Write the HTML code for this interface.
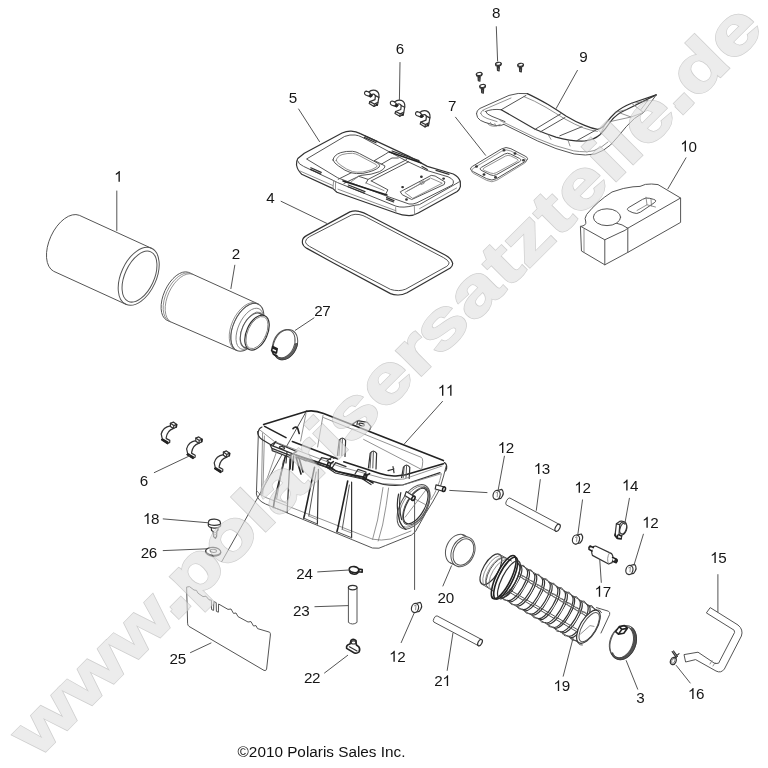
<!DOCTYPE html>
<html><head><meta charset="utf-8"><title>diagram</title>
<style>
html,body{margin:0;padding:0;background:#fff}
body{width:768px;height:768px;overflow:hidden;position:relative;font-family:"Liberation Sans",sans-serif}
svg{position:absolute;left:0;top:0;display:block;will-change:transform}
svg text{font-family:"Liberation Sans",sans-serif}
.g path,.g line,.g ellipse,.g polyline,.g rect{fill:none;stroke:#555;stroke-width:1;stroke-linecap:round;stroke-linejoin:round}
.g .w{fill:#fff}
.g .k{stroke:#222;stroke-width:1.6}
.g .d{stroke:#333;stroke-width:1.2}
.g .t{stroke:#777;stroke-width:.8}
.g .ld{stroke:#555;stroke-width:1}
.lb text{font-size:15.2px;fill:#161616;text-anchor:start}
.lb path{fill:#161616;stroke:none}
</style></head><body>
<svg width="768" height="768" viewBox="0 0 768 768">
<rect width="768" height="768" fill="#fff"/>
<g class="g">
<path d="M151.5,248.3 L79.3,215.3 A17.6 30.8 24.6 0 0 53.7,271.3 L125.9,304.3"/>
<ellipse cx="138.7" cy="276.3" rx="17.6" ry="30.8" transform="rotate(24.6 138.7 276.3)"/>
<ellipse cx="139.5" cy="276.6" rx="14.6" ry="27.2" transform="rotate(24.6 139.5 276.6)"/>
<line x1="116.8" y1="191" x2="116.8" y2="230.5" class="ld"/>
<path d="M258.1,303.9 L188.4,272.3 A14.4 26.3 24.6 0 0 166.6,320.1 L236.7,350.5"/>
<path d="M190.4,273.2 A14.4 26.3 24.6 0 0 168.6,321.0" class="t"/>
<path d="M192.4,274.1 A14.4 26.3 24.6 0 0 170.6,321.9" class="t"/>
<path d="M258.1,303.9 A14 25.6 24.6 0 0 236.7,350.5" class="t"/>
<path d="M255.8,302.9 A14 25.6 24.6 0 0 234.5,349.4" class="t"/>
<ellipse cx="247.4" cy="327.2" rx="14" ry="25.6" transform="rotate(24.6 247.4 327.2)"/>
<ellipse cx="249.9" cy="328.8" rx="11.5" ry="22" transform="rotate(24.6 249.9 328.8)" class="t"/>
<ellipse cx="252.4" cy="330.2" rx="10.2" ry="19.5" transform="rotate(24.6 252.4 330.2)" class="t"/>
<ellipse cx="252.5" cy="330.6" rx="10.4" ry="18.6" transform="rotate(24.6 252.5 330.6)" class="w"/>
<path d="M260.2,313.7 L264.7,315.7 M244.8,347.5 L249.3,349.5"/>
<ellipse cx="257" cy="332.6" rx="10.4" ry="18.6" transform="rotate(24.6 257 332.6)" class="w d"/>
<ellipse cx="257" cy="332.6" rx="9.2" ry="17.2" transform="rotate(24.6 257 332.6)" class="t"/>
<line x1="234.8" y1="265.2" x2="230.9" y2="288.6" class="ld"/>
<ellipse cx="285.4" cy="344.6" rx="11.4" ry="15.8" transform="rotate(24.6 285.4 344.6)"/>
<ellipse cx="283.79999999999995" cy="343.8" rx="10.4" ry="14.8" transform="rotate(24.6 283.79999999999995 343.8)"/>
<path d="M297.4,344.1 L296.9,346.3 L296.2,348.3 L295.3,350.3 L294.2,352.2 L292.9,354.0 L291.5,355.5 L289.9,356.9 L288.3,358.0 L286.6,358.8 L284.9,359.4 L283.2,359.7 L281.5,359.7 L279.9,359.4 L278.5,358.8 L277.1,357.9 L275.9,356.8 L274.9,355.4 L274.2,353.9 L273.6,352.1 L273.2,350.2 L273.1,348.2 L274.4,347.9 L274.4,349.7 L274.7,351.4 L275.1,353.0 L275.8,354.4 L276.6,355.6 L277.6,356.6 L278.8,357.3 L280.1,357.8 L281.4,358.1 L282.9,358.1 L284.4,357.8 L285.9,357.2 L287.3,356.4 L288.8,355.4 L290.2,354.1 L291.4,352.7 L292.6,351.1 L293.6,349.4 L294.4,347.6 L295.1,345.7 L295.5,343.8 Z" style="fill:#666;stroke:#333;stroke-width:.8"/>
<path d="M272.6,346.4 l4.6,2.2 l-0.8,4.4 l-4.8,-2.2 Z M273.4,348.2 l3,1.4 M272,351 l1.4,3.2 l3.6,1.8" class="w k"/>
<line x1="314" y1="317.9" x2="295.3" y2="330.3" class="ld"/>
<path d="M297.8,158.5 L304.3,153.2 L342.1,133 Q346.5,131 351.2,131.2 Q356,131.4 360.3,133.6 L409,156.4 L427.3,166.4 L453.3,174 Q458.6,176.6 460.3,181.5 L460.4,186.6 Q459.6,189.6 457.2,191.4 L418.2,213 Q413.5,215.6 409,215.6 Q402,215.4 396,213 L336.9,192.3 L333,188.6 L301.7,174.2 Q297.6,170.5 296.5,165 Q296.2,161 297.8,158.5 Z" class="d"/>
<path d="M297.4,160.5 Q298.6,164.4 303.6,166.4 L333.6,180.6 L337.6,182.6 L396,206.2 Q403,208.4 414.3,205.4 L419.5,204.6 L455.9,183.8 Q459.4,181.6 460.2,181.4"/>
<path d="M333.6,180.6 L333,188.6 M335.6,181.4 L335.4,190.6 M395.6,207.6 L396,213 M414.3,205.4 L414.6,214.6" class="t"/>
<path d="M300,171 L332.6,185.4 M338,189.2 L395.6,210.6 M419.6,208.6 L456.6,188" class="t"/>
<path d="M306.9,158.8 L344.7,136.4 Q350,134.4 355.1,135 Q358.6,135.4 362,137.2 L406.5,161 L426,170.2 L448.1,176.8 Q452,178.4 453.3,180.8 Q454,183.6 452,185.2 L416.9,202.8 Q413,204.6 409,204 L386.9,196.2 L338.2,178 Z"/>
<path d="M333,160 Q333.6,155 340.8,152.6 Q346,151 352.5,151.3 Q356,151.6 359.6,153.6 L378.5,163.6 Q380.2,165.2 379.2,167 Q375,171 362.9,173.4 Q356,174 351.2,172.8 Q345,171 338.6,166 Q334,163 333,160 Z"/>
<path d="M336.2,160.4 Q337,156.4 342.1,154.6 Q347,153.2 352.5,153.3 Q355.6,153.6 358.6,155.2 L376.2,164.6 Q377.6,165.8 376.6,167 Q372.6,170.2 362.9,172 Q356.5,172.6 352.5,171.6 Q346.5,169.6 341,165.4 Q336.8,162.6 336.2,160.4 Z" class="t"/>
<path d="M351.2,172.8 L338.2,179.3 M358.7,176.3 L344,183.4"/>
<path d="M374.4,160.6 L385.8,153.9 L389,151.8 M381.1,164.3 L392,158 L398.3,158 M374.4,160.6 L384.8,165.8 Q385.6,168.2 379.6,171.6 Q372,174.8 360.8,175.4 L358.7,176.3"/>
<path d="M368.1,179.4 L406.7,159.6 M371.2,180.9 L408.7,161.7 M358.7,176.3 L368.1,179.4 L366,183 M371.2,180.9 L387.9,189.8 L385.8,194"/>
<path d="M351.5,181.5 L358.7,176.3 M366,183 L384,190.6" class="t"/>
<path d="M310.8,167.8 L321.2,172.4 M310.4,169.4 L320.8,174" class="d"/>
<path d="M343.1,180.9 L386.9,195" class="k"/>
<path d="M348.3,185 L365,191.6 M348,186.8 L364.6,193.2" class="d"/>
<path d="M364.2,137.4 L376,142.8 M365.2,136 L377,141.4" class="d"/>
<path d="M389.5,152 L420.8,162.8" class="k"/>
<path d="M392,151 L419,160.6" class="d"/>
<path d="M422,166.4 L427.3,169.4 M436,170.4 L449,174.4" class="d"/>
<path d="M386.6,197.6 L394,200.6 M386.4,199.2 L393.6,202" class="d"/>
<path d="M400.6,191.6 L431.2,175.4 L435.1,176 L444.9,181.9 L444.2,184.5 L411.7,199.5 L402.6,194.9 Z"/>
<path d="M405.2,192.3 L430.5,178 L442.3,183.2 L413,198.2 Z" class="t"/>
<path d="M420,182.6 l3.4,-1.6 l1,0.8 l-0.4,1.6 l-2.6,1 Z M407,191.2 L429.6,179" class="t"/>
<ellipse cx="402.6" cy="187.1" rx="0.8" ry="0.6" transform="rotate(0 402.6 187.1)" class="d"/>
<ellipse cx="421.4" cy="176.7" rx="0.8" ry="0.6" transform="rotate(0 421.4 176.7)" class="d"/>
<ellipse cx="443.6" cy="178.6" rx="0.8" ry="0.6" transform="rotate(0 443.6 178.6)" class="d"/>
<ellipse cx="406.5" cy="199.5" rx="0.8" ry="0.6" transform="rotate(0 406.5 199.5)" class="d"/>
<line x1="298.6" y1="109" x2="319.5" y2="141.6" class="ld"/>
<path d="M302.4,241 Q302.4,237.8 306.9,235.4 L349.9,211.9 Q354.5,210.2 359,211.3 Q364,212.4 368.1,215 L445.6,255.2 Q451.5,258.6 452.7,263.4 Q452.6,266.4 450.3,268 L407,292.7 Q402,295.2 397.6,295 Q393.6,294.8 390.5,293.6 L333,262.7 L306.9,248.4 Q302.8,246 302.4,243 Z" class="d"/>
<path d="M305.6,241 Q305.8,238.6 309.5,236.7 L351.2,215.2 Q355,213.8 359,214.5 Q363,215.2 366.8,217.4 L443.3,257.5 Q448.4,260.2 449.1,262.8 Q448.8,265 446.8,266.3 L405.8,289.1 Q402,290.6 398.7,290.6 Q394,290.6 390.5,289.4 L334.3,260.1 L309.5,246.4 Q306,244.4 305.6,242.6 Z"/>
<line x1="281.1" y1="201.3" x2="326.8" y2="223.4" class="ld"/>
<path d="M369.0,92.0 L366.2,91.1 Q364.0,91.8 364.7,94.0 Q365.4,95.4 367.4,95.7 L370.8,96.9" class="w d"/>
<path d="M368.9,92.0 Q371.4,89.4 375.4,90.4 Q379.3,92.0 379.0,96.6 L377.6,104.6 L374.0,106.4 L369.2,103.6 L369.8,101.6 L375.0,99.6 L375.4,95.6 Q374.0,93.0 371.2,94.7 Z" class="w d"/>
<path d="M369.8,101.6 L374.4,104.0 L377.8,102.4 M374.4,104.0 L374.0,106.4 M375.4,95.6 L378.8,97.4" class="d"/>
<ellipse cx="370.6" cy="95.7" rx="1.5" ry="1.2" style="fill:#222;stroke:#222"/>
<path d="M376.2,104.2 L377.2,105.2" class="k"/>
<path d="M394.8,101.9 L392.0,101.0 Q389.8,101.7 390.5,103.9 Q391.2,105.3 393.2,105.6 L396.6,106.8" class="w d"/>
<path d="M394.7,101.9 Q397.2,99.3 401.2,100.3 Q405.1,101.9 404.8,106.5 L403.4,114.5 L399.8,116.3 L395.0,113.5 L395.6,111.5 L400.8,109.5 L401.2,105.5 Q399.8,102.9 397.0,104.6 Z" class="w d"/>
<path d="M395.6,111.5 L400.2,113.9 L403.6,112.3 M400.2,113.9 L399.8,116.3 M401.2,105.5 L404.6,107.3" class="d"/>
<ellipse cx="396.4" cy="105.6" rx="1.5" ry="1.2" style="fill:#222;stroke:#222"/>
<path d="M402.0,114.1 L403.0,115.1" class="k"/>
<path d="M420.0,112.5 L417.2,111.6 Q415.0,112.3 415.7,114.5 Q416.4,115.9 418.4,116.2 L421.8,117.4" class="w d"/>
<path d="M419.9,112.5 Q422.4,109.9 426.4,110.9 Q430.3,112.5 430.0,117.1 L428.6,125.1 L425.0,126.9 L420.2,124.1 L420.8,122.1 L426.0,120.1 L426.4,116.1 Q425.0,113.5 422.2,115.2 Z" class="w d"/>
<path d="M420.8,122.1 L425.4,124.5 L428.8,122.9 M425.4,124.5 L425.0,126.9 M426.4,116.1 L429.8,117.9" class="d"/>
<ellipse cx="421.6" cy="116.2" rx="1.5" ry="1.2" style="fill:#222;stroke:#222"/>
<path d="M427.2,124.7 L428.2,125.7" class="k"/>
<line x1="400" y1="62.5" x2="399.4" y2="100" class="ld"/>
<ellipse cx="498.4" cy="63.800000000000004" rx="2.9" ry="1.5" transform="rotate(-8 498.4 63.800000000000004)" class="w d"/>
<path d="M495.59999999999997,64.2 l0.4,1.6 q2.4,1 4.8,-0.6 l0.3,-1.6 M497.2,66.2 l0.3,4.2 l1.6,0.6 l0.3,-4.6 M497.29999999999995,67.60000000000001 l2,-0.4 M497.4,69.0 l2,-0.4" class="d"/>
<ellipse cx="520.6" cy="64.80000000000001" rx="2.9" ry="1.5" transform="rotate(-8 520.6 64.80000000000001)" class="w d"/>
<path d="M517.8000000000001,65.2 l0.4,1.6 q2.4,1 4.8,-0.6 l0.3,-1.6 M519.4,67.2 l0.3,4.2 l1.6,0.6 l0.3,-4.6 M519.5,68.60000000000001 l2,-0.4 M519.6,70.0 l2,-0.4" class="d"/>
<ellipse cx="479.2" cy="74.0" rx="2.9" ry="1.5" transform="rotate(-8 479.2 74.0)" class="w d"/>
<path d="M476.4,74.39999999999999 l0.4,1.6 q2.4,1 4.8,-0.6 l0.3,-1.6 M478.0,76.39999999999999 l0.3,4.2 l1.6,0.6 l0.3,-4.6 M478.09999999999997,77.8 l2,-0.4 M478.2,79.19999999999999 l2,-0.4" class="d"/>
<ellipse cx="482.6" cy="86.0" rx="2.9" ry="1.5" transform="rotate(-8 482.6 86.0)" class="w d"/>
<path d="M479.8,86.39999999999999 l0.4,1.6 q2.4,1 4.8,-0.6 l0.3,-1.6 M481.40000000000003,88.39999999999999 l0.3,4.2 l1.6,0.6 l0.3,-4.6 M481.5,89.8 l2,-0.4 M481.6,91.19999999999999 l2,-0.4" class="d"/>
<line x1="496.3" y1="26.7" x2="497.6" y2="61" class="ld"/>
<path d="M472.9,171.5 Q468.0,169.0 472.7,166.2 L501.3,149.0 Q506.0,146.2 510.9,148.7 L525.1,156.1 Q530.0,158.6 525.3,161.4 L496.7,178.6 Q492.0,181.4 487.1,178.9 Z"/>
<path d="M473.9,173.6 Q469.0,171.0 473.7,168.1 L501.3,151.4 Q506.0,148.5 510.9,151.0 L524.1,157.9 Q529.0,160.4 524.3,163.3 L496.7,180.3 Q492.0,183.2 487.1,180.6 Z" class="t"/>
<path d="M481.6,170.5 Q478.5,169.0 481.5,167.3 L504.5,154.1 Q507.5,152.4 510.6,154.0 L519.4,158.4 Q522.5,160.0 519.5,161.7 L496.5,174.7 Q493.5,176.4 490.4,174.9 Z"/>
<path d="M484.3,170.5 Q481.5,169.4 484.1,167.9 L505.4,156.1 Q508.0,154.6 510.7,155.9 L516.8,158.9 Q519.5,160.2 516.9,161.6 L496.1,172.8 Q493.5,174.2 490.7,173.1 Z" class="t"/>
<ellipse cx="476.5" cy="166.5" rx="0.9" ry="0.7" transform="rotate(0 476.5 166.5)" class="d"/>
<ellipse cx="504" cy="150.3" rx="0.9" ry="0.7" transform="rotate(0 504 150.3)" class="d"/>
<ellipse cx="523.5" cy="160.3" rx="0.9" ry="0.7" transform="rotate(0 523.5 160.3)" class="d"/>
<ellipse cx="495.5" cy="177.3" rx="0.9" ry="0.7" transform="rotate(0 495.5 177.3)" class="d"/>
<ellipse cx="484" cy="174.5" rx="0.9" ry="0.7" transform="rotate(0 484 174.5)" class="d"/>
<ellipse cx="515" cy="153.5" rx="0.9" ry="0.7" transform="rotate(0 515 153.5)" class="d"/>
<line x1="455.5" y1="117.2" x2="485.6" y2="155.3" class="ld"/>
<path d="M476.5,113.6 Q476.4,110.4 480,108.4 L509,95.4 Q518,92.4 527.3,93.6"/>
<path d="M476.5,113.6 L477.6,117.6 Q479.4,120.6 485,122.4 L496,125.6 Q500.6,126.4 503.9,124.4"/>
<path d="M480.6,113.4 Q480.6,111.4 484,109.6 L511,98 M480.6,113.4 Q481.6,116.6 487,118.4 L497,121.6" class="t"/>
<path d="M485.6,111.4 Q492,108.6 501.2,109.7 M485.6,111.4 Q486.4,114.4 492,116.4 L505,121.6"/>
<path d="M487,123 q2.4,3.6 8.4,3.2 l5,-1.8 M490.4,122.4 l1.4,2.6 M494.8,123.6 l1.2,2.4 M483,110.4 l1,0.6" class="t"/>
<path d="M527.3,93.6 Q536,97.6 548.1,104.5 Q557,110 566.4,116.2 Q576,122 584.6,125.4 Q592,128.6 597.6,129.3 Q602,128.6 605.4,124 Q610,117.6 615.8,112.3 Q622,107 631.5,103.2 L656.2,94.9" class="d"/>
<path d="M524,96.6 Q534,100.4 546,107.4 Q556,113.4 565,119 Q575,124.6 583.6,128 Q591,130.6 597.4,131.4" class="t"/>
<path d="M501.2,109.7 L526,95.4"/>
<path d="M501.2,109.7 L535.1,129.3 Q546,134 555.9,137.1 Q572,141.6 584.6,141 Q594,140 600.2,134.5 Q606,128.6 610.6,121.5 Q616,114 626.2,109.7 L656.2,94.9" class="d"/>
<path d="M503.9,124.4 L537.7,141 Q556,149.6 574.2,154 Q586,156 595,154 Q604,151 610.6,144.9 Q618,137 626.2,126.7 Q634,117.4 643.5,112.5 L656.2,94.9"/>
<path d="M500,120.5 L536,138 Q555,146.6 573.4,150.8 Q586,152.8 594,150.6 Q602,147.6 608,142" class="t"/>
<path d="M535.1,129.3 L561.1,113.6 M540.3,131.9 L565,117.5 M559.8,135.8 L582,126.7 M577,140.6 L596,130"/>
<path d="M548,134.4 L551,139.4 M568,140.2 L570,146" class="t"/>
<path d="M605.4,124 L600.2,134.5 M615.8,112.3 L626.2,109.7 M631.5,103.2 L643.5,112.5 M610.6,121.5 L631,117 L643.5,112.5 M620,113 L631,117" class="t"/>
<path d="M636,103 L648,100.2 L641,109.5" class="t"/>
<line x1="577.4" y1="70.4" x2="556.2" y2="108.4" class="ld"/>
<path d="M580.8,226.4 Q586.5,225.6 585.8,222 Q584,218.5 586.6,214.5 Q597,201.5 612,192 Q624,187.6 633,186.8 L640,186.4 Q645,183.6 651.5,184 L658,184.6 L680.6,198 L680.6,222.4 L627.8,252.4 L604.8,264.8 L581.8,251.2 Z"/>
<path d="M580.8,226.4 L604.8,239.8 L604.8,264.8 M604.8,239.8 L620,232.6 Q626,230.4 627.8,228.2 L680.6,198 M627.8,228.2 L627.8,252.4"/>
<path d="M584,229 L584,251.8" class="t"/>
<ellipse cx="607" cy="217.2" rx="13.6" ry="8.4" transform="rotate(0 607 217.2)"/>
<path d="M616.5,223.2 Q622,224 627.8,228.2"/>
<path d="M629.2,211.1 Q625.5,209.5 628.9,207.4 L642.6,199.3 Q646.0,197.2 649.8,198.3 L653.7,199.4 Q657.5,200.5 654.2,202.8 L640.3,212.2 Q637.0,214.5 633.3,212.9 Z"/>
<path d="M646,197.2 L647,204.8 L637,210.5 M647,204.8 L655.5,207 M651,199.2 L651.5,205.8" class="t"/>
<line x1="686" y1="157.8" x2="667.9" y2="188.8" class="ld"/>
<path d="M170.4,425.8 Q163.0,427.0 161.2,434.0 L162.4,439.4 L166.4,440.4 L166.2,437.6 Q167.4,430.4 173.2,428.6 Z" class="w d"/>
<path d="M170.4,423.3 L173.4,422.1 L176.7,424.4 L176.4,427.0 L173.6,428.5 L170.4,426.4 Z" class="w d"/>
<path d="M170.4,423.3 L173.8,425.6 L176.7,424.4 M173.8,425.6 L173.6,428.5" class="d"/>
<path d="M176.5,424.8 L176.3,427.0" class="k"/>
<path d="M161.8,439.6 L167.6,443.4 L169.7,442.4 L169.8,440.4 L166.4,438.6" class="w d"/>
<path d="M161.8,439.8 L167.6,443.6 M162.6,439.2 L167.8,442.2" class="k"/>
<path d="M195.8,440.6 Q188.4,441.8 186.6,448.8 L187.8,454.2 L191.8,455.2 L191.6,452.4 Q192.8,445.2 198.6,443.4 Z" class="w d"/>
<path d="M195.8,438.1 L198.8,436.9 L202.1,439.2 L201.8,441.8 L199.0,443.3 L195.8,441.2 Z" class="w d"/>
<path d="M195.8,438.1 L199.2,440.4 L202.1,439.2 M199.2,440.4 L199.0,443.3" class="d"/>
<path d="M201.9,439.6 L201.7,441.8" class="k"/>
<path d="M187.2,454.4 L193.0,458.2 L195.1,457.2 L195.2,455.2 L191.8,453.4" class="w d"/>
<path d="M187.2,454.6 L193.0,458.4 M188.0,454.0 L193.2,457.0" class="k"/>
<path d="M223.4,454.6 Q216.0,455.8 214.2,462.8 L215.4,468.2 L219.4,469.2 L219.2,466.4 Q220.4,459.2 226.2,457.4 Z" class="w d"/>
<path d="M223.4,452.1 L226.4,450.9 L229.7,453.2 L229.4,455.8 L226.6,457.3 L223.4,455.2 Z" class="w d"/>
<path d="M223.4,452.1 L226.8,454.4 L229.7,453.2 M226.8,454.4 L226.6,457.3" class="d"/>
<path d="M229.5,453.6 L229.3,455.8" class="k"/>
<path d="M214.8,468.4 L220.6,472.2 L222.7,471.2 L222.8,469.2 L219.4,467.4" class="w d"/>
<path d="M214.8,468.6 L220.6,472.4 M215.6,468.0 L220.8,471.0" class="k"/>
<line x1="154.3" y1="472.6" x2="189.7" y2="455.8" class="ld"/>
<path d="M208.5,522 Q209,519 214.5,519.2 Q220,519.6 220.4,522.6 L220.6,526 Q219,528.4 214,528.2 Q209,527.8 208.3,525.4 Z" class="w d"/>
<path d="M208.4,524 Q213,526.6 220.5,524.4 M211.2,527.6 L211.6,530.6 L213.2,531.6 L213.6,536.6 L215.4,538.4 L216.6,536.4 L216.8,531.4 L218,530 L218,528" class="d"/>
<path d="M213.3,533 l3.4,-0.6 M213.5,535 l3.2,-0.6" class="t"/>
<line x1="163.2" y1="518.9" x2="208.5" y2="522.8" class="ld"/>
<ellipse cx="213.2" cy="551.4" rx="7.6" ry="4" transform="rotate(4 213.2 551.4)" class="w d"/>
<ellipse cx="213.4" cy="550.8" rx="3.2" ry="1.6" transform="rotate(4 213.4 550.8)"/>
<path d="M205.6,551.6 q0.4,3.6 7.6,4.6 q7,0 7.6,-3.6" class="d"/>
<line x1="163.2" y1="550.6" x2="207" y2="548.8" class="ld"/>
<line x1="306.6" y1="410.8" x2="221.8" y2="561.5" class="ld"/>
<path d="M187,587 L189.5,586.6 L194,590 L196.5,590.4 L198,593.2 L203,596.6 L206,596.2 L209,599.8 L211.4,600.2 L211.6,609.6 L213.6,610.4 L213.8,601.6 L216.2,602.6 L216.4,611.4 L218.4,612.2 L218.6,604 L228,609.4 L231,609 L233.5,613.4 L236,613 L238,616.6 L248,622 L251,621.6 L253.5,626 L256,625.6 L257.5,628.6 L269.6,632.2 Q270.6,633 270.4,635 L266.6,669 Q266,671.4 264,670.4 L189,626.4 Q187.6,625.4 187.6,623.6 Z"/>
<line x1="190.5" y1="652.6" x2="211" y2="643" class="ld"/>
<ellipse cx="354" cy="569.6" rx="4.8" ry="3" transform="rotate(8 354 569.6)" class="w k"/>
<path d="M349.4,570.4 q0.4,3.4 4.8,3.8 q4.2,-0.2 4.6,-3.6 M358.6,569 l3.6,0.6 l0,2.6 l-3.6,-0.4" class="k"/>
<line x1="317.7" y1="571.9" x2="349.1" y2="570" class="ld"/>
<path d="M348.4,587.6 L348.4,622.4 Q352.6,625.6 357,622.4 L357,587.6" class="w"/>
<ellipse cx="352.7" cy="587.6" rx="4.3" ry="2.2" transform="rotate(0 352.7 587.6)" class="w d"/>
<line x1="314.9" y1="606.7" x2="348.3" y2="605.6" class="ld"/>
<path d="M346.6,648.4 q-0.6,-3.6 3.4,-4.4 l1,-3.6 q2.6,-2.2 5,0.2 l0.4,4.4 l2.2,1.6 q2,2.6 0.4,5.4 q-2.2,2 -5,0.8 Z" class="w k"/>
<ellipse cx="353.6" cy="642.4" rx="2.4" ry="1.6" transform="rotate(0 353.6 642.4)" class="d"/>
<path d="M349.4,646.8 l7.6,4.2" class="d"/>
<line x1="324.5" y1="673" x2="347.7" y2="655.3" class="ld"/>
<path d="M497.4,490.5 L501.8,489.4 Q505.2,493.4 500.8,498.3 L496.0,499.4 Z" class="w d"/>
<ellipse cx="496.6" cy="495.0" rx="3.5" ry="4.6" transform="rotate(15 496.6 495.0)" class="w d"/>
<path d="M496.0,492.8 l1.6,-0.6 l-0.4,4.6" class="t"/>
<path d="M576.8,535.1 L581.2,534.0 Q584.6,538.0 580.2,542.9 L575.4,544.0 Z" class="w d"/>
<ellipse cx="576" cy="539.6" rx="3.5" ry="4.6" transform="rotate(15 576 539.6)" class="w d"/>
<path d="M575.4,537.4 l1.6,-0.6 l-0.4,4.6" class="t"/>
<path d="M630.2,565.5 L634.6,564.4 Q638.0,568.4 633.6,573.3 L628.8,574.4 Z" class="w d"/>
<ellipse cx="629.4" cy="570.0" rx="3.5" ry="4.6" transform="rotate(15 629.4 570.0)" class="w d"/>
<path d="M628.8,567.8 l1.6,-0.6 l-0.4,4.6" class="t"/>
<path d="M415.8,603.5 L420.2,602.4 Q423.6,606.4 419.2,611.3 L414.4,612.4 Z" class="w d"/>
<ellipse cx="415" cy="608.0" rx="3.5" ry="4.6" transform="rotate(15 415 608.0)" class="w d"/>
<path d="M414.4,605.8 l1.6,-0.6 l-0.4,4.6" class="t"/>
<line x1="504.4" y1="456.2" x2="498.2" y2="489.8" class="ld"/>
<line x1="582.5" y1="499.9" x2="577.9" y2="534" class="ld"/>
<line x1="643.4" y1="534.2" x2="634" y2="565" class="ld"/>
<line x1="401.2" y1="642.6" x2="414" y2="613.4" class="ld"/>
<line x1="449.7" y1="490.4" x2="487" y2="492.6" class="ld"/>
<line x1="414.6" y1="499" x2="414.6" y2="589.5" class="ld"/>
<path d="M555.8,531.2 L506.2,504.8 A1.9 3.9 28.0 0 1 509.8,498.0 L559.4,524.4" class="w"/>
<ellipse cx="557.6" cy="527.8" rx="2.1" ry="3.9" transform="rotate(28.0 557.6 527.8)" class="w d"/>
<line x1="540.3" y1="479.6" x2="536.3" y2="510.4" class="ld"/>
<path d="M478.4,645.7 L433.9,622.1 A1.8 3.5 27.9 0 1 437.1,615.9 L481.6,639.5" class="w"/>
<ellipse cx="480" cy="642.6" rx="1.9" ry="3.5" transform="rotate(27.9 480 642.6)" class="w d"/>
<line x1="447.2" y1="670.4" x2="452.9" y2="633.3" class="ld"/>
<path d="M616.4,523.8 L619.6,521.4 Q623,520.6 625.6,522.6 Q627.6,525.6 626.4,530 Q624.8,534.4 622,535 L621.2,538.8 L617.4,538.4 L615,535.6 Z" class="w d"/>
<ellipse cx="623.2" cy="528.6" rx="3.1" ry="5.6" transform="rotate(18 623.2 528.6)" class="w d"/>
<path d="M616.4,523.8 L619.8,524.6 L619,534.6 M619.8,524.6 Q621,521.8 624,522" class="d"/>
<path d="M615.2,534 L615,535.6 L617.4,538.4 L621.2,538.8 M617.4,535.4 L617.4,538.4 M618.8,534.8 L621.4,536" class="k"/>
<line x1="629.4" y1="498.3" x2="624.7" y2="524.4" class="ld"/>
<path d="M595.6,546 L611.6,553.6 Q614.6,557.6 612,562.6 L608.6,564 L592.4,555.4 Q590.6,550 593.2,546.6 Z" class="w d"/>
<path d="M608.6,564 Q606,558.4 609.6,552.6" class="t"/>
<path d="M593.4,547.6 L590.2,546 Q588.4,547.2 589,549.4 L592,551" class="w k"/>
<path d="M612.6,557.4 L616,559 Q617.2,560.6 616.2,562.6 L613,561.4" class="w k"/>
<ellipse cx="616" cy="560.9" rx="1" ry="1.7" transform="rotate(28 616 560.9)" class="k"/>
<line x1="601.3" y1="582.4" x2="599.8" y2="560.4" class="ld"/>
<ellipse cx="457.5" cy="549.2" rx="11.2" ry="15.6" transform="rotate(24.6 457.5 549.2)"/>
<path d="M462.5,535 L467.6,537.4 M450.5,562.8 L455.6,565.4"/>
<ellipse cx="463" cy="551.8" rx="11.2" ry="15.6" transform="rotate(24.6 463 551.8)" class="w"/>
<ellipse cx="463.4" cy="552" rx="9.6" ry="13.8" transform="rotate(24.6 463.4 552)"/>
<line x1="442.9" y1="586" x2="451.5" y2="565.8" class="ld"/>
<ellipse cx="490.9" cy="569.3" rx="7.6" ry="17.2" transform="rotate(30.5 490.9 569.3)" class="w d"/>
<path d="M499.7,554.5 L511.5,561.0 M482.2,584.2 L493.6,591.3"/>
<path class="t" d="M502.3,556.0 A7.6 17.2 30.5 0 0 484.8,585.7"/>
<path class="t" d="M504.4,557.3 A7.6 17.2 30.5 0 0 487.0,586.9"/>
<path class="t" d="M508.3,559.6 A7.6 17.2 30.5 0 0 490.8,589.2"/>
<path class="" d="M505.8,557.9 A7.6 17.4 30.5 0 0 488.1,587.9"/>
<path class="w d" d="M518.4,564.1 A6.6 18.4 30.5 0 1 499.7,595.8"/>
<path class="d" d="M520.3,565.3 A6.6 18.4 30.5 0 1 501.6,597.0"/>
<path d="M521.2,565.3 q2.7,-1.4 4.5,2.6"/>
<path d="M502.1,597.7 q0.3,2.7 4.5,2.6"/>
<path class="w d" d="M526.0,568.6 A6.6 18.4 30.5 0 1 507.3,600.3"/>
<path class="d" d="M527.9,569.7 A6.6 18.4 30.5 0 1 509.2,601.4"/>
<path d="M528.7,569.8 q2.7,-1.4 4.5,2.6"/>
<path d="M509.7,602.2 q0.3,2.7 4.5,2.6"/>
<path class="w d" d="M533.5,573.1 A6.6 18.4 30.5 0 1 514.9,604.8"/>
<path class="d" d="M535.4,574.2 A6.6 18.4 30.5 0 1 516.8,605.9"/>
<path d="M536.3,574.2 q2.7,-1.4 4.5,2.6"/>
<path d="M517.2,606.6 q0.3,2.7 4.5,2.6"/>
<path class="w d" d="M541.1,577.5 A6.6 18.4 30.5 0 1 522.4,609.2"/>
<path class="d" d="M543.0,578.7 A6.6 18.4 30.5 0 1 524.3,610.4"/>
<path d="M543.9,578.7 q2.7,-1.4 4.5,2.6"/>
<path d="M524.8,611.1 q0.3,2.7 4.5,2.6"/>
<path class="w d" d="M548.7,582.0 A6.6 18.4 30.5 0 1 530.0,613.7"/>
<path class="d" d="M550.6,583.1 A6.6 18.4 30.5 0 1 531.9,614.8"/>
<path d="M551.5,583.2 q2.7,-1.4 4.5,2.6"/>
<path d="M532.4,615.6 q0.3,2.7 4.5,2.6"/>
<path class="w d" d="M556.3,586.5 A6.6 18.4 30.5 0 1 537.6,618.2"/>
<path class="d" d="M558.2,587.6 A6.6 18.4 30.5 0 1 539.5,619.3"/>
<path d="M559.1,587.6 q2.7,-1.4 4.5,2.6"/>
<path d="M540.0,620.0 q0.3,2.7 4.5,2.6"/>
<path class="w d" d="M563.9,590.9 A6.6 18.4 30.5 0 1 545.2,622.6"/>
<path class="d" d="M565.8,592.1 A6.6 18.4 30.5 0 1 547.1,623.8"/>
<path d="M566.7,592.1 q2.7,-1.4 4.5,2.6"/>
<path d="M547.6,624.5 q0.3,2.7 4.5,2.6"/>
<path class="w d" d="M571.5,595.4 A6.6 18.4 30.5 0 1 552.8,627.1"/>
<path class="d" d="M573.3,596.5 A6.6 18.4 30.5 0 1 554.7,628.2"/>
<path d="M574.2,596.6 q2.7,-1.4 4.5,2.6"/>
<path d="M555.2,629.0 q0.3,2.7 4.5,2.6"/>
<path class="w d" d="M579.0,599.9 A6.6 18.4 30.5 0 1 560.4,631.6"/>
<path class="d" d="M580.9,601.0 A6.6 18.4 30.5 0 1 562.3,632.7"/>
<path d="M581.8,601.0 q2.7,-1.4 4.5,2.6"/>
<path d="M562.7,633.4 q0.3,2.7 4.5,2.6"/>
<path class="w d" d="M586.6,604.3 A6.6 18.4 30.5 0 1 567.9,636.0"/>
<path class="d" d="M588.5,605.5 A6.6 18.4 30.5 0 1 569.8,637.2"/>
<path d="M589.4,605.5 q2.7,-1.4 4.5,2.6"/>
<path d="M570.3,637.9 q0.3,2.7 4.5,2.6"/>
<path class="w d" d="M594.2,608.8 A6.6 18.4 30.5 0 1 575.5,640.5"/>
<path class="d" d="M596.1,609.9 A6.6 18.4 30.5 0 1 577.4,641.6"/>
<path d="M597.0,610.0 q2.7,-1.4 4.5,2.6"/>
<path d="M577.9,642.4 q0.3,2.7 4.5,2.6"/>
<path d="M518.3,563.4 L597.8,610.7 M499.8,596.6 L579.0,642.8"/>
<line x1="518.6" y1="573.4" x2="598.5" y2="620.9"/>
<line x1="518.0" y1="575.5" x2="598.0" y2="622.9"/>
<line x1="509.6" y1="589.8" x2="589.8" y2="636.8"/>
<line x1="508.0" y1="591.4" x2="588.2" y2="638.4"/>
<ellipse cx="524.1" cy="578.0" rx="2.6" ry="1.5" transform="rotate(30.5 524.1 578.0)" class="t"/>
<ellipse cx="531.7" cy="582.4" rx="2.6" ry="1.5" transform="rotate(30.5 531.7 582.4)" class="t"/>
<ellipse cx="539.3" cy="586.9" rx="2.6" ry="1.5" transform="rotate(30.5 539.3 586.9)" class="t"/>
<ellipse cx="546.9" cy="591.4" rx="2.6" ry="1.5" transform="rotate(30.5 546.9 591.4)" class="t"/>
<ellipse cx="554.5" cy="595.8" rx="2.6" ry="1.5" transform="rotate(30.5 554.5 595.8)" class="t"/>
<ellipse cx="562.1" cy="600.3" rx="2.6" ry="1.5" transform="rotate(30.5 562.1 600.3)" class="t"/>
<ellipse cx="569.6" cy="604.8" rx="2.6" ry="1.5" transform="rotate(30.5 569.6 604.8)" class="t"/>
<ellipse cx="577.2" cy="609.2" rx="2.6" ry="1.5" transform="rotate(30.5 577.2 609.2)" class="t"/>
<ellipse cx="584.8" cy="613.7" rx="2.6" ry="1.5" transform="rotate(30.5 584.8 613.7)" class="t"/>
<ellipse cx="592.4" cy="618.2" rx="2.6" ry="1.5" transform="rotate(30.5 592.4 618.2)" class="t"/>
<ellipse cx="503.7" cy="577.2" rx="7.4" ry="23.8" transform="rotate(26 503.7 577.2)" class="k"/>
<ellipse cx="505.7" cy="578.2" rx="7.2" ry="23" transform="rotate(26 505.7 578.2)" class="k"/>
<ellipse cx="508.9" cy="579.8" rx="7" ry="21" transform="rotate(27 508.9 579.8)" class="d"/>
<ellipse cx="588.4" cy="626.7" rx="8.2" ry="18.6" transform="rotate(30.5 588.4 626.7)" class="w d"/>
<ellipse cx="589.2" cy="627.2" rx="6.8" ry="16.4" transform="rotate(30.5 589.2 627.2)"/>
<path d="M596.5,607.6 L608.4,611.2 Q610.4,612.4 609.6,614.6 L601,633"/>
<path d="M580.5,634 L590,625.6 L594,626.4" class="t"/>
<line x1="563.2" y1="676.2" x2="573.2" y2="637.6" class="ld"/>
<ellipse cx="623.2" cy="642.6" rx="12.6" ry="17.6" transform="rotate(20 623.2 642.6)"/>
<ellipse cx="621.4000000000001" cy="642.0" rx="11.4" ry="16.4" transform="rotate(20 621.4000000000001 642.0)"/>
<path d="M632.1,627.7 L633.4,629.1 L634.5,630.6 L635.3,632.5 L636.0,634.5 L636.4,636.6 L636.5,638.9 L636.4,641.3 L636.0,643.7 L635.3,646.0 L634.5,648.3 L633.4,650.5 L632.1,652.6 L630.6,654.4 L629.0,656.0 L627.3,657.3 L625.5,658.4 L623.7,659.2 L621.8,659.6 L620.0,659.7 L618.2,659.5 L616.6,658.9 L615.0,658.0 L613.7,656.8 L612.5,655.4 L611.5,653.7 L612.6,652.6 L613.4,654.2 L614.4,655.4 L615.5,656.5 L616.8,657.2 L618.2,657.7 L619.7,657.9 L621.3,657.7 L622.8,657.3 L624.4,656.6 L626.0,655.6 L627.5,654.3 L628.9,652.9 L630.1,651.2 L631.3,649.3 L632.2,647.3 L633.0,645.2 L633.6,643.1 L634.0,640.9 L634.2,638.8 L634.1,636.7 L633.8,634.8 L633.3,633.0 L632.6,631.4 L631.7,630.0 L630.7,628.8 Z" style="fill:#555;stroke:#333;stroke-width:.8"/>
<path d="M615.6,631.6 l3.6,-5 l5.2,-1 l3,2.6 l-3.6,5 l-5.4,1 Z M619.2,626.6 l2.6,2.8 l5.6,-1.2 M621.8,629.4 l-3.2,4.6" class="w k"/>
<line x1="637.7" y1="689.2" x2="626.2" y2="660.6" class="ld"/>
<path d="M706.6,612.6 L710.2,607.6 L738,625 Q743.6,629.6 741.4,636 L724.4,669 Q721,673.6 716,671 L695.6,659.6 L685.6,662 L684,654.6 L698,652.2 L715,663.6 L718.6,663.2 L734.6,632.4 L734.2,630.6 Z" class="w"/>
<path d="M710,664 l2,-3.4 M713,666 l2,-3.4" class="t"/>
<line x1="717.9" y1="574.6" x2="717.9" y2="612" class="ld"/>
<ellipse cx="673.3" cy="661" rx="2.7" ry="3.7" transform="rotate(25 673.3 661)" class="d"/>
<ellipse cx="673.3" cy="661" rx="1.5" ry="2.5" transform="rotate(25 673.3 661)" class="t"/>
<path d="M672.2,651.6 L676.4,657.6 M679,653.6 L674,658 M673.6,651 L677.4,656.4" class="d"/>
<line x1="690.2" y1="683" x2="676.3" y2="665.5" class="ld"/>
<path d="M258.4,432 L257.2,470 L256.4,494 Q257.5,500.5 265.6,504 L372.4,548 Q379,549.6 385.4,545.6 L411.6,535 Q416,532.4 418,527"/>
<path d="M256.6,490.6 Q258.5,494.6 266,497.6 L372.6,539.2 Q381,541 390.6,539 L411,531" class="t"/>
<path d="M262.6,433 L261.4,493" class="t"/>
<path d="M264.4,436 L262.8,494.4" class="t"/>
<path d="M383,487.5 Q381,500 377.6,520 L372.6,539.2 M388.6,488 Q386.6,505 382.6,525 L378.2,541" class="t"/>
<path d="M446,466.5 L443.6,476 Q441,490 432.6,502 Q426,512 418,527"/>
<path d="M441.4,474 Q438.6,488 431,499.6" class="t"/>
<path d="M263.6,424.6 L306,411.4 Q314,409.6 323.6,413.6 L443.4,460.6" class="k"/>
<path d="M262,427 Q259,428 258.4,431.4" class="d"/>
<path d="M264.6,426.4 L286,437.6 M292.4,441.6 L337.4,458.8 M343.8,461.8 L380,473.6 Q388,476.4 396,476 L405.6,474.8 L443.4,463.8" class="k"/>
<path d="M306,413.5 L300.6,441 M323,415.5 L317.6,447" class="t"/>
<path d="M323.6,417.6 L421.4,457.4 Q424,459 421.6,469.6" class="t"/>
<path d="M363.6,439.4 L421.4,469.4" class="t"/>
<path d="M337.40000000000003,455.5 L339.20000000000005,440.4 Q342.20000000000005,435.6 345.6,440.4 L345.0,456.5" class="d"/>
<path d="M342.40000000000003,438.4 L341.8,455.5 M340.0,439.6 L339.0,455.5"/>
<path d="M368.40000000000003,468 L370.20000000000005,453.4 Q373.20000000000005,448.6 376.6,453.4 L376.0,469" class="d"/>
<path d="M373.40000000000003,451.4 L372.8,468 M371.0,452.6 L370.0,468"/>
<path d="M401.6,477.5 L403.40000000000003,467.4 Q406.40000000000003,462.6 409.8,467.4 L409.2,478.5" class="d"/>
<path d="M406.6,465.4 L406.0,477.5 M404.2,466.6 L403.2,477.5"/>
<path d="M293,428.6 q2.4,-2.6 4.6,-0.6 l1.6,5.4" class="k"/>
<path d="M270.3,445.3 L275,442.2 L296.9,451.6 L290.6,455.6 L271.9,448.4 Z M271.9,448.4 L272.2,450.6 L290.8,457.8 L290.6,455.6" class="w d"/>
<ellipse cx="282" cy="447.7" rx="2.6" ry="1.2" transform="rotate(18 282 447.7)" class="d"/>
<path d="M352.6,424 L357.6,420.6 L367.4,422.4 L371,426.6 L369.6,430 M357.6,420.6 L357,424.6" class="d"/>
<ellipse cx="361.6" cy="424.6" rx="2.8" ry="1.2" transform="rotate(15 361.6 424.6)" class="d"/>
<path d="M257.6,431.6 Q257.6,436.6 262,439.6 L272,445.6 L338,471.6 L383.6,484.4 Q393,486 402.6,485 L440,472.6" class="d"/>
<path d="M260.4,430.4 L274.6,441.6 L340,466.6 L384,478.6 Q395,480.4 404,479 L442,466" class="t"/>
<path d="M273,445.6 L276,441.4 M331.6,468.6 L335.6,462.6 L346,466.6 M317.6,463.6 L321.6,457.6 L330.6,459.6 M355,474 L358,469.4 L366,472 L365,477.6" class="d"/>
<path d="M327,461 l5,-4 l2,1.4 M388,470.6 l6,-1.6 M393,466.6 l1,6" class="d"/>
<path d="M291,455 L290,469 M293.6,456 L292.6,470 M296,457 L301,474 M299,458 L303,472 M296,457 L299,458" class="k"/>
<path d="M287,452 L286,463 M302,459 L306,461" class="d"/>
<path d="M285.2,456.6 L274.4,500.5 L273.4,507.4 M314.5,467.3 L304.7,514.2 L303.7,518.1 M347.7,481 L337.9,527.9 L336.9,531.8" class="k"/>
<path d="M290,458.6 L287.1,512.3 M318.4,469.3 L317.4,524 M351.6,482 L351.6,537.7" class="d"/>
<path d="M283.4,460.6 L276.6,499 M316.2,472 L308.8,516 M349.4,485 L342.2,529.4 M273.4,507.4 L287.1,512.3 M303.7,518.1 L317.4,524 M336.9,531.8 L351.6,537.7"/>
<path d="M276.6,499 L287,503.4 M308.8,516 L317.4,519.6 M342.2,529.4 L351.6,533" class="t"/>
<path d="M296,455 L328,465.4 L336,471.2 L363.3,477.1 L373,483" class="k"/>
<path d="M297,457.4 L327,467.4 L335.4,473 L362.6,479 L371,484.6" class="d"/>
<path d="M328.4,462 l2.4,1.4 l-1.6,4.6 l-2.6,-1 Z M364.6,474 l2.4,1.2 l-1.4,4.6 l-2.6,-1 Z M330.8,463.4 l2.6,-1.8 M367,475.2 l2.6,-1.6" class="k"/>
<path d="M261.6,494 L277,450.6" class="t"/>
<ellipse cx="413.6" cy="506.8" rx="13.2" ry="24.4" transform="rotate(29 413.6 506.8)"/>
<ellipse cx="414.2" cy="506.6" rx="11.8" ry="22.6" transform="rotate(29 414.2 506.6)" class="t"/>
<ellipse cx="415.7" cy="506" rx="9" ry="19.6" transform="rotate(29 415.7 506)" class="d"/>
<ellipse cx="416.2" cy="506.2" rx="10.2" ry="20.8" transform="rotate(29 416.2 506.2)"/>
<path d="M398.6,494 Q395.6,506 399.6,521 Q402,527 406,529.4 M400.8,492.6 Q398,506 401.6,519.6" class="d"/>
<path d="M405.2,517.1 L425.7,490.2 M411.6,497.2 L426.9,505.4" class="t"/>
<path d="M406.2,491.6 L414.2,496.6 L412.8,500.4 L404.8,495.6 Z" class="w d"/>
<ellipse cx="413.4" cy="498.3" rx="1.4" ry="2.3" transform="rotate(30 413.4 498.3)" class="w k"/>
<path d="M436,484.8 L444.4,487 L443.6,491.4 L435.2,489 Z" class="w d"/>
<ellipse cx="444" cy="489.2" rx="1.4" ry="2.3" transform="rotate(15 444 489.2)" class="w k"/>
<path d="M444.4,462.6 Q447.2,464 446.6,468.6 L445.6,471" class="d"/>
<path d="M383.5,483.7 L403.4,484.9 L441,473.8" class="t"/>
<line x1="442.5" y1="401.4" x2="404.6" y2="443.6" class="ld"/>
</g>
<g class="lb">
<path d="M763 0L583 0L583 1147Q518 1085 412.5 1023Q307 961 223 930L223 1104Q374 1175 487 1276Q600 1377 647 1472L763 1472Z" transform="translate(114.17 181.80) scale(0.00742 -0.00742)"/>
<text x="231.78" y="258.90">2</text>
<text x="314.20" y="316.10">2</text>
<text x="322.35" y="316.10">7</text>
<text x="288.78" y="102.60">5</text>
<text x="266.28" y="203.10">4</text>
<text x="395.78" y="54.10">6</text>
<text x="491.98" y="17.90">8</text>
<text x="447.98" y="111.10">7</text>
<text x="579.27" y="61.90">9</text>
<path d="M763 0L583 0L583 1147Q518 1085 412.5 1023Q307 961 223 930L223 1104Q374 1175 487 1276Q600 1377 647 1472L763 1472Z" transform="translate(680.30 151.50) scale(0.00742 -0.00742)"/>
<text x="688.45" y="151.50">0</text>
<text x="139.78" y="485.70">6</text>
<path d="M763 0L583 0L583 1147Q518 1085 412.5 1023Q307 961 223 930L223 1104Q374 1175 487 1276Q600 1377 647 1472L763 1472Z" transform="translate(142.90 523.90) scale(0.00742 -0.00742)"/>
<text x="151.05" y="523.90">8</text>
<text x="140.70" y="557.70">2</text>
<text x="148.85" y="557.70">6</text>
<text x="169.50" y="663.50">2</text>
<text x="177.65" y="663.50">5</text>
<text x="296.30" y="578.70">2</text>
<text x="304.45" y="578.70">4</text>
<text x="293.10" y="615.70">2</text>
<text x="301.25" y="615.70">3</text>
<text x="303.90" y="682.50">2</text>
<text x="312.05" y="682.50">2</text>
<path d="M763 0L583 0L583 1147Q518 1085 412.5 1023Q307 961 223 930L223 1104Q374 1175 487 1276Q600 1377 647 1472L763 1472Z" transform="translate(497.70 452.90) scale(0.00742 -0.00742)"/>
<text x="505.85" y="452.90">2</text>
<path d="M763 0L583 0L583 1147Q518 1085 412.5 1023Q307 961 223 930L223 1104Q374 1175 487 1276Q600 1377 647 1472L763 1472Z" transform="translate(574.30 492.70) scale(0.00742 -0.00742)"/>
<text x="582.45" y="492.70">2</text>
<path d="M763 0L583 0L583 1147Q518 1085 412.5 1023Q307 961 223 930L223 1104Q374 1175 487 1276Q600 1377 647 1472L763 1472Z" transform="translate(642.10 527.70) scale(0.00742 -0.00742)"/>
<text x="650.25" y="527.70">2</text>
<path d="M763 0L583 0L583 1147Q518 1085 412.5 1023Q307 961 223 930L223 1104Q374 1175 487 1276Q600 1377 647 1472L763 1472Z" transform="translate(389.10 661.70) scale(0.00742 -0.00742)"/>
<text x="397.25" y="661.70">2</text>
<path d="M763 0L583 0L583 1147Q518 1085 412.5 1023Q307 961 223 930L223 1104Q374 1175 487 1276Q600 1377 647 1472L763 1472Z" transform="translate(533.70 473.90) scale(0.00742 -0.00742)"/>
<text x="541.85" y="473.90">3</text>
<text x="434.30" y="686.10">2</text>
<path d="M763 0L583 0L583 1147Q518 1085 412.5 1023Q307 961 223 930L223 1104Q374 1175 487 1276Q600 1377 647 1472L763 1472Z" transform="translate(442.45 686.10) scale(0.00742 -0.00742)"/>
<path d="M763 0L583 0L583 1147Q518 1085 412.5 1023Q307 961 223 930L223 1104Q374 1175 487 1276Q600 1377 647 1472L763 1472Z" transform="translate(621.90 490.50) scale(0.00742 -0.00742)"/>
<text x="630.05" y="490.50">4</text>
<path d="M763 0L583 0L583 1147Q518 1085 412.5 1023Q307 961 223 930L223 1104Q374 1175 487 1276Q600 1377 647 1472L763 1472Z" transform="translate(594.50 596.70) scale(0.00742 -0.00742)"/>
<text x="602.65" y="596.70">7</text>
<text x="437.50" y="603.30">2</text>
<text x="445.65" y="603.30">0</text>
<path d="M763 0L583 0L583 1147Q518 1085 412.5 1023Q307 961 223 930L223 1104Q374 1175 487 1276Q600 1377 647 1472L763 1472Z" transform="translate(553.50 691.10) scale(0.00742 -0.00742)"/>
<text x="561.65" y="691.10">9</text>
<text x="636.17" y="703.10">3</text>
<path d="M763 0L583 0L583 1147Q518 1085 412.5 1023Q307 961 223 930L223 1104Q374 1175 487 1276Q600 1377 647 1472L763 1472Z" transform="translate(710.10 562.90) scale(0.00742 -0.00742)"/>
<text x="718.25" y="562.90">5</text>
<path d="M763 0L583 0L583 1147Q518 1085 412.5 1023Q307 961 223 930L223 1104Q374 1175 487 1276Q600 1377 647 1472L763 1472Z" transform="translate(687.90 698.90) scale(0.00742 -0.00742)"/>
<text x="696.05" y="698.90">6</text>
<path d="M763 0L583 0L583 1147Q518 1085 412.5 1023Q307 961 223 930L223 1104Q374 1175 487 1276Q600 1377 647 1472L763 1472Z" transform="translate(437.70 395.70) scale(0.00742 -0.00742)"/>
<path d="M763 0L583 0L583 1147Q518 1085 412.5 1023Q307 961 223 930L223 1104Q374 1175 487 1276Q600 1377 647 1472L763 1472Z" transform="translate(445.85 395.70) scale(0.00742 -0.00742)"/>
</g>
<text x="237.6" y="756.6" font-size="15.3" fill="#111" textLength="167.8" lengthAdjust="spacingAndGlyphs">©2010 Polaris Sales Inc.</text>
<g opacity=".6" transform="translate(384 384) rotate(-45)" font-size="66.4" font-weight="bold" text-anchor="middle">
<text transform="translate(4.6 20.4) scale(1.2717 1)" fill="#aeaeae" stroke="#aeaeae" stroke-width="2.5" stroke-linejoin="miter" dx="0.00 0.00 0.00 0.00 0.00 -2.75 -0.16 -0.24 0.00 0.00 -0.79 0.39 0.31 -1.49 0.79 0.79 0.63 0.55 0.79 0.39 0.39 0.39 0.00 0.00 0.00">www.polarisersatzteile.de</text>
<rect x="-309.4" y="5.8" width="16.2" height="15.4" fill="#aeaeae"/>
<rect x="402.5" y="5.8" width="16.2" height="15.4" fill="#aeaeae"/>
<text transform="translate(4.6 20.4) scale(1.2717 1)" fill="#e0e0e0" stroke="#e0e0e0" stroke-width="1.2" stroke-linejoin="miter" dx="0.00 0.00 0.00 0.00 0.00 -2.75 -0.16 -0.24 0.00 0.00 -0.79 0.39 0.31 -1.49 0.79 0.79 0.63 0.55 0.79 0.39 0.39 0.39 0.00 0.00 0.00">www.polarisersatzteile.de</text>
<rect x="-308.7" y="6.5" width="14.8" height="14" fill="#e0e0e0"/>
<rect x="403.2" y="6.5" width="14.8" height="14" fill="#e0e0e0"/>
</g>
</svg>
</body></html>
